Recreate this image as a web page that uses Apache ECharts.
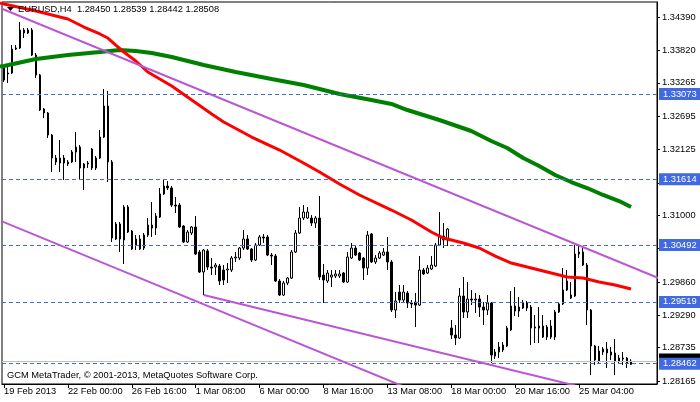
<!DOCTYPE html>
<html><head><meta charset="utf-8">
<script src="https://cdn.jsdelivr.net/npm/echarts@6/dist/echarts.min.js"></script>
<style>html,body{margin:0;padding:0;background:#fff}#c{width:700px;height:402px}</style>
</head><body><div id="c"></div>
<script>
const opens = [1.33518,1.33433,1.33433,1.33843,1.33860,1.34168,1.34117,1.34168,1.33740,1.33398,
1.32817,1.32749,1.32372,1.31979,1.31894,1.31979,1.31877,1.31911,1.32082,1.32167,
1.31808,1.31877,1.32133,1.31808,1.31979,1.32338,1.32868,1.31911,1.30594,1.30851,
1.30577,1.31141,1.30731,1.30491,1.30594,1.30440,1.30662,1.30833,1.30782,1.30970,
1.31364,1.31500,1.31466,1.31175,1.31175,1.30816,1.30543,1.30697,1.30799,1.30372,
1.30030,1.30389,1.30115,1.30115,1.30132,1.30064,1.30064,1.30064,1.30269,1.30269,
1.30440,1.30594,1.30423,1.30235,1.30491,1.30628,1.30628,1.30320,1.30303,1.29876,
1.29636,1.29842,1.29927,1.30372,1.30697,1.30953,1.30953,1.30953,1.30868,1.30953,
1.29978,1.29876,1.29944,1.29961,1.29961,1.30013,1.29859,1.30269,1.30440,1.30355,
1.30269,1.30098,1.30680,1.30201,1.30269,1.30320,1.30372,1.30201,1.29380,1.29688,
1.29551,1.29671,1.29500,1.29517,1.29465,1.30064,1.30013,1.30081,1.30132,1.30491,
1.30645,1.30577,1.29072,1.28952,1.28901,1.29619,1.29346,1.29568,1.29551,1.29568,
1.29431,1.29380,1.29500,1.28593,1.28662,1.28696,1.28764,1.29038,1.29448,1.29363,
1.29414,1.29500,1.29431,1.29072,1.29072,1.29106,1.28918,1.29106,1.28918,1.29346,
1.29483,1.29722,1.29636,1.29619,1.30338,1.30372,1.30149,1.29380,1.28764,1.28508,
1.28662,1.28713,1.28662,1.28645,1.28508,1.28559,1.28559,1.28450];
const highs = [1.33535,1.33569,1.33911,1.33911,1.34305,1.34202,1.34202,1.34202,1.33775,1.33416,
1.32834,1.32766,1.32390,1.32030,1.32287,1.32030,1.31945,1.32116,1.32424,1.32201,
1.31894,1.31928,1.32150,1.32013,1.32458,1.33159,1.33125,1.31945,1.30885,1.30885,
1.31175,1.31175,1.30748,1.30662,1.30662,1.30697,1.30953,1.31227,1.31039,1.31466,
1.31603,1.31586,1.31500,1.31312,1.31210,1.30833,1.30748,1.30816,1.30987,1.30406,
1.30423,1.30423,1.30269,1.30184,1.30167,1.30149,1.30184,1.30303,1.30372,1.30457,
1.30748,1.30662,1.30440,1.30526,1.30662,1.30680,1.30662,1.30355,1.30338,1.29910,
1.29876,1.29944,1.30406,1.30748,1.31141,1.31175,1.31141,1.31004,1.30987,1.31329,
1.30167,1.30064,1.30064,1.30064,1.30064,1.30030,1.30372,1.30526,1.30474,1.30372,
1.30286,1.30731,1.30697,1.30320,1.30389,1.30440,1.30628,1.30235,1.29688,1.29807,
1.29807,1.29705,1.29551,1.29671,1.30303,1.30098,1.30149,1.30303,1.30526,1.31056,
1.30868,1.30782,1.29209,1.29123,1.29756,1.29944,1.29859,1.29722,1.29671,1.29636,
1.29517,1.29636,1.29517,1.28713,1.28833,1.28833,1.29106,1.29705,1.29773,1.29602,
1.29551,1.29534,1.29465,1.29294,1.29431,1.29294,1.29123,1.29209,1.29380,1.29517,
1.30098,1.30064,1.29859,1.30491,1.30491,1.30440,1.30184,1.29397,1.28781,1.28764,
1.28747,1.28833,1.28747,1.28884,1.28610,1.28662,1.28576,1.28539];
const lows = [1.33279,1.33262,1.33416,1.33826,1.33843,1.34031,1.34100,1.33723,1.33347,1.32783,
1.32663,1.32321,1.31740,1.31859,1.31740,1.31603,1.31842,1.31894,1.31911,1.31603,
1.31432,1.31808,1.31774,1.31774,1.31962,1.32321,1.31569,1.30543,1.30577,1.30372,
1.30167,1.30697,1.30406,1.30406,1.30406,1.30406,1.30628,1.30628,1.30662,1.30953,
1.31346,1.31432,1.31141,1.31039,1.30782,1.30526,1.30526,1.30662,1.30320,1.30013,
1.29636,1.30064,1.29978,1.29978,1.29807,1.29807,1.29842,1.30030,1.30201,1.30235,
1.30406,1.30406,1.30201,1.30218,1.30474,1.30526,1.30303,1.30149,1.29859,1.29619,
1.29619,1.29807,1.29910,1.30355,1.30680,1.30919,1.30936,1.30816,1.30782,1.29893,
1.29500,1.29842,1.29773,1.29927,1.29927,1.29842,1.29842,1.30252,1.30303,1.30218,
1.29893,1.29978,1.30184,1.30167,1.30252,1.30303,1.30064,1.29346,1.29243,1.29500,
1.29500,1.29414,1.29414,1.29089,1.29448,1.29978,1.29996,1.30064,1.30115,1.30474,
1.30440,1.30474,1.28884,1.28781,1.28884,1.29243,1.29243,1.29465,1.29329,1.29260,
1.29123,1.29294,1.28474,1.28542,1.28559,1.28662,1.28747,1.29021,1.29277,1.29260,
1.29397,1.29363,1.28781,1.28816,1.28816,1.28901,1.28867,1.28884,1.28867,1.29329,
1.29465,1.29705,1.29568,1.29602,1.30269,1.30132,1.29123,1.28268,1.28439,1.28474,
1.28610,1.28388,1.28525,1.28268,1.28474,1.28439,1.28388,1.28442];
const closes = [1.33313,1.33416,1.33843,1.33860,1.34168,1.34117,1.34168,1.33740,1.33398,1.32800,
1.32749,1.32372,1.31979,1.31911,1.31979,1.31894,1.31911,1.32082,1.32167,1.31808,
1.31877,1.31894,1.31808,1.31979,1.32338,1.32868,1.31911,1.30611,1.30851,1.30594,
1.31141,1.30714,1.30423,1.30594,1.30423,1.30662,1.30833,1.30782,1.30987,1.31364,
1.31500,1.31466,1.31175,1.31158,1.30799,1.30543,1.30714,1.30799,1.30338,1.30030,
1.30406,1.30115,1.30098,1.30149,1.29876,1.29893,1.30081,1.30269,1.30286,1.30440,
1.30594,1.30423,1.30235,1.30491,1.30628,1.30611,1.30320,1.30303,1.29876,1.29636,
1.29842,1.29927,1.30372,1.30697,1.30953,1.31056,1.31056,1.30868,1.30953,1.29944,
1.29893,1.30013,1.29978,1.29996,1.29996,1.29859,1.30286,1.30440,1.30320,1.30235,
1.30098,1.30662,1.30201,1.30269,1.30355,1.30372,1.30201,1.29380,1.29534,1.29551,
1.29688,1.29500,1.29483,1.29465,1.30064,1.29996,1.30098,1.30149,1.30491,1.30645,
1.30577,1.30765,1.28952,1.28901,1.29619,1.29346,1.29568,1.29551,1.29568,1.29431,
1.29380,1.29500,1.28610,1.28662,1.28747,1.28781,1.29072,1.29448,1.29363,1.29431,
1.29500,1.29414,1.29072,1.29089,1.29106,1.28918,1.29089,1.28918,1.29346,1.29483,
1.29722,1.29876,1.29585,1.30338,1.30372,1.30149,1.29380,1.28764,1.28525,1.28679,
1.28713,1.28645,1.28610,1.28508,1.28559,1.28542,1.28474,1.28508];
const maRed = [[-1,1.34630],[0,1.34613],[8,1.34493],[16,1.34356],[20,1.34219],[24,1.34100],[26,1.34031],[28,1.33911],[30,1.33792],[33,1.33638],[36,1.33450],[39,1.33330],[42,1.33210],[47,1.32971],[52,1.32732],[55,1.32595],[62,1.32338],[69,1.32116],[75,1.31894],[79,1.31740],[84,1.31535],[89,1.31347],[97,1.31090],[102,1.30919],[107,1.30714],[110,1.30611],[115,1.30526],[119,1.30440],[123,1.30303],[127,1.30184],[132,1.30098],[141,1.29944],[145,1.29927],[149,1.29859],[153,1.29807],[157,1.29739]];
const maGreen = [[-1,1.33544],[0,1.33552],[8,1.33672],[16,1.33741],[24,1.33792],[29,1.33826],[33,1.33809],[37,1.33775],[42,1.33706],[50,1.33570],[58,1.33450],[67,1.33330],[75,1.33227],[84,1.33074],[92,1.32971],[97,1.32903],[101,1.32800],[109,1.32629],[117,1.32441],[122,1.32270],[126,1.32150],[130,1.31979],[134,1.31842],[138,1.31689],[142,1.31569],[146,1.31466],[150,1.31347],[154,1.31244],[157,1.31141]];
const trendUpper = [[-1,1.34544],[164,1.29924]];
const trendLower = [[-1,1.30909],[100,1.28074]];
const trendMid = [[50,1.29636],[145,1.28056]];
const levels = [1.33073,1.31614,1.30492,1.29519,1.28462];
const bidPrice = 1.28508;
const yTicks = [1.34390,1.33820,1.33265,1.32695,1.32125,1.31555,1.31000,1.30430,1.29860,1.29290,1.28735,1.28165];
const xTickIdx = [0,16,32,48,64,80,96,112,128,144];
const xTickLabels = ['19 Feb 2013','22 Feb 00:00','26 Feb 16:00','1 Mar 08:00','6 Mar 00:00','8 Mar 16:00','13 Mar 08:00','18 Mar 00:00','20 Mar 16:00','25 Mar 04:00'];
const yMin = 1.28115, yMax = 1.34647;
const nSlots = 164;

const FONT = '"Liberation Sans", Arial, sans-serif';
const FS = 9.3;
const cats = Array.from({length: nSlots}, (_, i) => String(i));
const candles = opens.map((o, i) => [o, closes[i], lows[i], highs[i]]);
const last = opens.length - 1;
const title = 'EURUSD,H4  ' + [opens[last], highs[last], lows[last], closes[last]].map(v => v.toFixed(5)).join(' ');

function lineSeries(data, color, width, z) {
  return {type: 'line', data, showSymbol: false, symbol: 'none', smooth: false,
    lineStyle: {color, width}, itemStyle: {color}, z, silent: true, clip: true, animation: false};
}
function levelLine(values, color, dash, boxColor, z, pad) {
  return {type: 'line', data: [], z, silent: true,
    markLine: {silent: true, symbol: ['none', 'none'], animation: false, precision: 5,
      lineStyle: {color, type: dash, width: 1},
      label: {show: true, position: 'end', formatter: p => Number(p.value).toFixed(5), backgroundColor: boxColor,
        color: '#fff', padding: pad, fontFamily: FONT, fontSize: FS, distance: 2},
      data: values.map(v => ({yAxis: v}))}};
}

const chart = echarts.init(document.getElementById('c'));
chart.setOption({
  animation: false,
  backgroundColor: '#fff',
  grid: {left: 2, top: 2, right: 43, bottom: 18, show: true, borderColor: '#000', borderWidth: 1, backgroundColor: '#fff'},
  xAxis: {
    type: 'category', data: cats, boundaryGap: true,
    axisLine: {show: true, lineStyle: {color: '#000', width: 1}},
    axisTick: {show: true, alignWithLabel: true, interval: (i) => xTickIdx.includes(i), length: 4, lineStyle: {color: '#000'}},
    axisLabel: {show: true, interval: (i) => xTickIdx.includes(i),
      formatter: (v, i) => { const k = xTickIdx.indexOf(i); return k >= 0 ? xTickLabels[k] : ''; },
      align: 'left', margin: 3, color: '#000', fontFamily: FONT, fontSize: FS},
    splitLine: {show: false}
  },
  yAxis: {
    type: 'value', position: 'right', min: yMin, max: yMax,
    axisLine: {show: true, lineStyle: {color: '#000'}},
    axisTick: {show: true, customValues: yTicks, length: 3, inside: false, lineStyle: {color: '#000'}},
    axisLabel: {show: true, customValues: yTicks, formatter: v => Number(v).toFixed(5), margin: 5,
      color: '#000', fontFamily: FONT, fontSize: FS},
    splitLine: {show: false}
  },
  series: [
    levelLine([bidPrice], '#C0C0C0', 'solid', '#000', 1, [4, 4, 2, 4]),
    levelLine(levels, '#4169E1', [4, 3], '#4169E1', 2, [2, 4, 1, 4]),
    {type: 'candlestick', data: candles, barWidth: 2, z: 3, silent: true,
      itemStyle: {color: '#fff', color0: '#000', borderColor: '#000', borderColor0: '#000', borderWidth: 1}},
    lineSeries(maGreen, '#008000', 4, 4),
    lineSeries(maRed, '#FF0000', 3, 5),
    lineSeries(trendUpper, '#BA55D3', 2, 6),
    lineSeries(trendLower, '#BA55D3', 2, 6),
    lineSeries(trendMid, '#BA55D3', 2, 6)
  ],
  graphic: [
    {type: 'polygon', shape: {points: [[7, 7], [14, 7], [10.5, 11]]}, style: {fill: '#000'}, z: 20},
    {type: 'text', left: 18, top: 5, z: 20, style: {text: title, fill: '#000', font: FS + 'px ' + FONT}},
    {type: 'text', left: 7, top: 371, z: 20, style: {text: 'GCM MetaTrader, © 2001-2013, MetaQuotes Software Corp.', fill: '#000', font: FS + 'px ' + FONT}}
  ]
});
</script>
</body></html>
